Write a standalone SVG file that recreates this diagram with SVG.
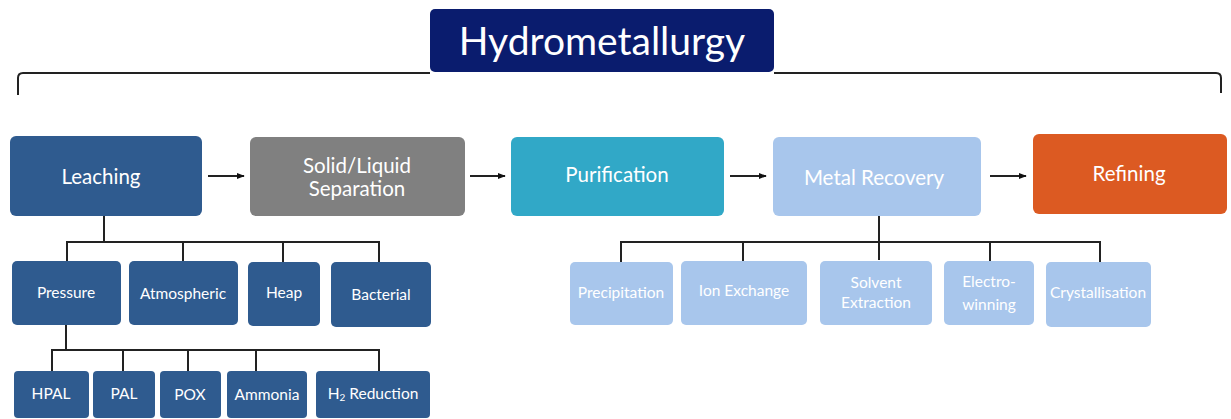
<svg xmlns="http://www.w3.org/2000/svg" width="1231" height="419" viewBox="0 0 1231 419">
<defs>
<style>
.t{font-family:Lato,"Liberation Sans",sans-serif;fill:#fff;text-anchor:middle;dominant-baseline:central}
.m{font-size:20.5px}
.s{font-size:15.5px}
.ln{fill:none;stroke:#222;stroke-width:2}
.dk{fill:#2f5b8f}
.lb{fill:#a8c6ec}
</style>
<marker id="ah" viewBox="0 0 10 10" refX="9" refY="5" markerWidth="8" markerHeight="8" orient="auto" markerUnits="userSpaceOnUse"><path d="M0,1 L10,5 L0,9 z" fill="#111"/></marker>
</defs>
<rect width="1231" height="419" fill="#fff"/>
<g id="connectors">
<path class="ln" d="M18,95 V78 Q18,73 23,73 H430 M774,73 H1216 Q1221,73 1221,78 V93"/>
<line class="ln" x1="208" y1="176" x2="244" y2="176" marker-end="url(#ah)"/>
<line class="ln" x1="470" y1="176" x2="505" y2="176" marker-end="url(#ah)"/>
<line class="ln" x1="730" y1="176" x2="766" y2="176" marker-end="url(#ah)"/>
<line class="ln" x1="990" y1="176" x2="1026" y2="176" marker-end="url(#ah)"/>
<path class="ln" d="M104,216 V242 M67,262 V242 H379 V262 M183,242 V262 M283,242 V262"/>
<path class="ln" d="M66,325 V350 M52,371 V350 H379 V371 M123,350 V371 M188,350 V371 M256,350 V371"/>
<path class="ln" d="M879,216 V260 M621,262 V242 H1100 V262 M743,242 V262 M990,242 V262"/>
</g>
<g id="title"><rect x="430" y="9" width="344" height="63" rx="5" fill="#0a1c6e"/><text class="t" x="602" y="40" font-size="39">Hydrometallurgy</text></g>
<g id="leaching"><rect class="dk" x="10" y="136" width="192" height="80" rx="6"/><text class="t m" x="101" y="176">Leaching</text></g>
<g id="separation"><rect x="250" y="137" width="215" height="79" rx="6" fill="#808080"/><text class="t m" x="357" y="165">Solid/Liquid</text><text class="t m" x="357" y="188">Separation</text></g>
<g id="purification"><rect x="511" y="137" width="213" height="79" rx="6" fill="#31a8c7"/><text class="t m" x="617" y="174">Purification</text></g>
<g id="metal-recovery"><rect class="lb" x="773" y="137" width="208" height="79" rx="6"/><text class="t m" x="874" y="177">Metal Recovery</text></g>
<g id="refining"><rect x="1033" y="134" width="194" height="80" rx="6" fill="#dc5a22"/><text class="t m" x="1129" y="173">Refining</text></g>
<g id="pressure"><rect class="dk" x="12" y="261" width="109" height="64" rx="5"/><text class="t s" x="66" y="292">Pressure</text></g>
<g id="atmospheric"><rect class="dk" x="129" y="261" width="109" height="64" rx="5"/><text class="t s" x="183" y="293">Atmospheric</text></g>
<g id="heap"><rect class="dk" x="248" y="262" width="72" height="64" rx="5"/><text class="t s" x="284" y="292">Heap</text></g>
<g id="bacterial"><rect class="dk" x="331" y="262" width="100" height="65" rx="5"/><text class="t s" x="381" y="294">Bacterial</text></g>
<g id="hpal"><rect class="dk" x="14" y="371" width="75" height="47" rx="4"/><text class="t s" x="51" y="393">HPAL</text></g>
<g id="pal"><rect class="dk" x="93" y="371" width="62" height="47" rx="4"/><text class="t s" x="124" y="393">PAL</text></g>
<g id="pox"><rect class="dk" x="160" y="371" width="61" height="47" rx="4"/><text class="t s" x="190" y="394">POX</text></g>
<g id="ammonia"><rect class="dk" x="227" y="371" width="80" height="47" rx="4"/><text class="t s" x="267" y="394">Ammonia</text></g>
<g id="h2-reduction"><rect class="dk" x="316" y="371" width="114" height="47" rx="4"/><text class="t s" x="373" y="393">H<tspan font-size="10" dy="4">2</tspan><tspan dy="-4"> Reduction</tspan></text></g>
<g id="precipitation"><rect class="lb" x="570" y="262" width="103" height="63" rx="5"/><text class="t s" x="621" y="292">Precipitation</text></g>
<g id="ion-exchange"><rect class="lb" x="681" y="261" width="126" height="64" rx="5"/><text class="t s" x="744" y="290">Ion Exchange</text></g>
<g id="solvent-extraction"><rect class="lb" x="820" y="261" width="112" height="64" rx="5"/><text class="t s" x="876" y="282">Solvent</text><text class="t s" x="876" y="302">Extraction</text></g>
<g id="electrowinning"><rect class="lb" x="944" y="261" width="90" height="64" rx="5"/><text class="t s" x="989" y="281">Electro-</text><text class="t s" x="989" y="304">winning</text></g>
<g id="crystallisation"><rect class="lb" x="1046" y="262" width="105" height="65" rx="5"/><text class="t s" x="1098" y="292">Crystallisation</text></g>
</svg>
